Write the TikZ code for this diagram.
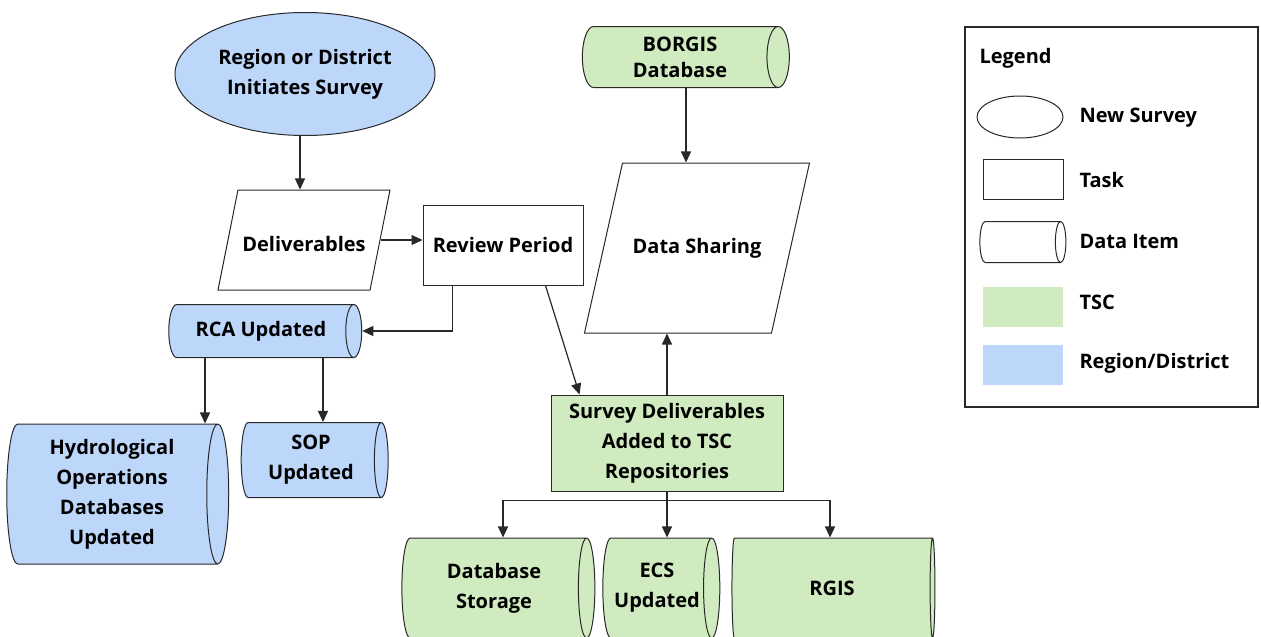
\documentclass[tikz,border=0pt]{standalone}
\usepackage{fontspec}
\setmainfont{Open Sans}
\usetikzlibrary{positioning,arrows.meta,shapes.geometric,calc}
\definecolor{tscgreen}{RGB}{208,235,192}
\definecolor{rdblue}{RGB}{189,215,251}
\definecolor{edge}{RGB}{40,40,40}
\tikzset{
  start/.style={draw=edge, ellipse, line width=1pt, fill=rdblue, align=center, inner sep=0pt},
  task/.style={draw=edge, rectangle, line width=1pt, align=center, inner sep=0pt},
  io/.style={draw=edge, trapezium, trapezium left angle=#1, trapezium right angle=180-#1, trapezium stretches body=true, line width=1pt, align=center, inner xsep=0pt, text height=14pt, text depth=4pt},
  dat/.style={draw=edge, cylinder, line width=1pt, align=center, inner sep=0pt, cylinder uses custom fill, cylinder body fill=#1, cylinder end fill=#1},
  swatch/.style={rectangle, minimum width=80pt, minimum height=40pt, fill=#1},
  arr/.style={-{Triangle[length=11pt,width=10pt]}, line width=1.2pt, draw=edge},
}

\begin{document}
\begin{tikzpicture}[x=1pt, y=-1pt, font=\fontsize{20}{30}\selectfont\bfseries]
\useasboundingbox (0,0) rectangle (1261,637);
\clip (0,0) rectangle (1261,637);
% flow on the left
\node[start, minimum width=260pt, minimum height=123pt] (srv) at (305,74) {Region or District\\Initiates Survey};
\node[io=78.7, minimum width=172pt, inner ysep=39pt, text height=22pt, text depth=0pt] (del) at (304,240) {Deliverables};
\node[task, minimum width=160pt, minimum height=80pt] (rev) at (503,245) {Review Period};
\node[dat=rdblue, aspect=0.8, minimum height=193pt, minimum width=53pt] (rca) at (261,331) {RCA Updated};
\node[dat=rdblue, aspect=0.2, minimum height=222pt, minimum width=140pt] (hyd) at (112,494) {Hydrological\\Operations\\Databases\\Updated};
\node[dat=rdblue, aspect=0.28, minimum height=147pt, minimum width=75pt] (sop) at (311,460) {SOP\\Updated};
% TSC side
\node[dat=tscgreen, aspect=0.55, minimum height=207pt, minimum width=61pt, font=\fontsize{20}{26}\selectfont\bfseries] (bor) at (680,57) {BORGIS\\Database};
\node[io=77.4, minimum width=225pt, inner ysep=76pt] (shr) at (697,248) {Data Sharing};
\node[task, fill=tscgreen, minimum width=232pt, minimum height=96pt] (sdr) at (667,443) {Survey Deliverables\\Added to TSC\\Repositories};
\node[dat=tscgreen, aspect=0.33, minimum height=193pt, minimum width=100pt] (dbs) at (494,588) {Database\\Storage};
\node[dat=tscgreen, aspect=0.33, minimum height=117pt, minimum width=100pt] (ecs) at (657,588) {ECS\\Updated};
\node[dat=tscgreen, aspect=0.33, minimum height=203pt, minimum width=100pt] (rgi) at (832,588) {RGIS};
\coordinate[below=9pt of sdr.south] (fork);

\draw[arr] ([xshift=-5pt]srv.south) -- ([xshift=-5pt]srv.south |- del.north);
\draw[arr] (del.east) -- (del.east -| rev.west);
\draw[arr] ([xshift=30pt]rev.south west) |- (rca.east);
\draw[arr] ([xshift=-38pt]rev.south east) -- ([xshift=29pt]sdr.north west);
\draw[arr] ([xshift=-56pt]rca.south) -- ([xshift=-56pt]rca.south |- hyd.north);
\draw[arr] ([xshift=62pt]rca.south) -- ([xshift=62pt]rca.south |- sop.north);
\draw[arr] ([xshift=6pt]bor.south) -- ([xshift=6pt]bor.south |- shr.north);
\draw[arr] (sdr.north) -- (sdr.north |- shr.south);
\draw[line width=1.2pt, draw=edge] (sdr.south) -- (fork);
\draw[arr] (fork) -| ([xshift=9pt]dbs.north);
\draw[arr] (fork) -- (fork |- ecs.north);
\draw[arr] (fork) -| ([xshift=-2pt]rgi.north);

% legend
\node[draw=edge, line width=1.2pt, minimum width=293pt, minimum height=380pt] (leg) at (1111.5,217) {};
\node[anchor=west] (legt) at (976,58) {Legend};
\node[start, fill=white, minimum width=86pt, minimum height=42pt] (lsrv) at (1020,117) {};
\node[task, minimum width=80pt, minimum height=40pt] (ltask) at (1023,179) {};
\node[dat=white, aspect=0.35, minimum height=86pt, minimum width=41pt] (ldat) at (1020,242) {\strut};
\node[swatch=tscgreen] (ltsc) at (1023,307) {};
\node[swatch=rdblue] (lrd) at (1023,365) {};
\node[anchor=west] at (1076,118) {New Survey};
\node[anchor=west] at (1076,180) {Task};
\node[anchor=west] at (1076,241) {Data Item};
\node[anchor=west] at (1076,302) {TSC};
\node[anchor=west] at (1076,363) {Region/District};
\end{tikzpicture}
\end{document}
